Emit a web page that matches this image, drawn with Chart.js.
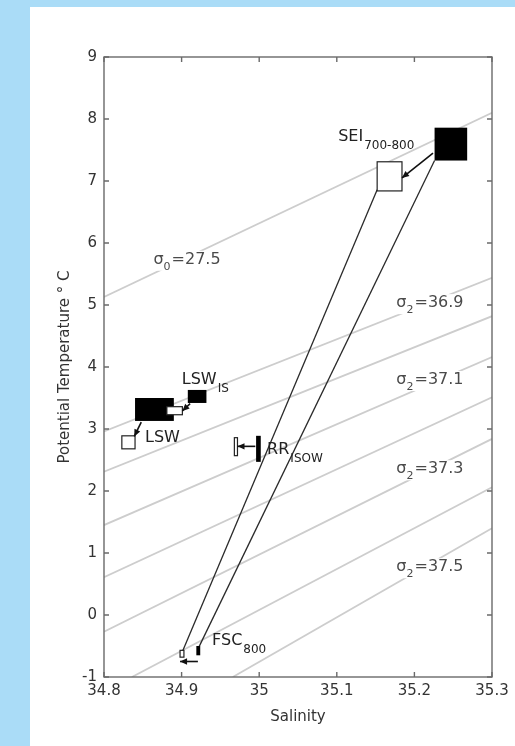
<!DOCTYPE html>
<html>
<head>
<meta charset="utf-8">
<script src="https://cdn.jsdelivr.net/npm/chart.js@4.4.1/dist/chart.umd.min.js"></script>
<style>
  body { margin: 0; background: #aadcf7; }
  #panel { position: absolute; left: 30px; top: 7px; width: 485px; height: 739px; background: #fff; }
</style>
</head>
<body>
<div id="panel"><canvas id="ts" width="485" height="739"></canvas></div>
<script>
// axes: salinity and potential temperature
const xTicks = [34.8, 34.9, 35, 35.1, 35.2, 35.3];
const yTicks = [-1, 0, 1, 2, 3, 4, 5, 6, 7, 8, 9];

// isopycnals, end points (salinity, temperature)
const isoNames = ["s0 27.5", "s2 36.9", "s2 37.0", "s2 37.1", "s2 37.2", "s2 37.3", "s2 37.4", "s2 37.5"];
const isoS0 = [34.8, 34.8, 34.8, 34.8, 34.8, 34.8, 34.836, 34.966];
const isoT0 = [5.13, 2.96, 2.31, 1.45, 0.61, -0.27, -1, -1];
const isoS1 = [35.3, 35.3, 35.3, 35.3, 35.3, 35.3, 35.3, 35.3];
const isoT1 = [8.10, 5.44, 4.82, 4.16, 3.51, 2.84, 2.06, 1.40];

// contour labels (sigma subscript, value, centre)
const isoLabSub = ["0", "2", "2", "2", "2"];
const isoLabVal = ["27.5", "36.9", "37.1", "37.3", "37.5"];
const isoLabS = [34.907, 35.22, 35.22, 35.22, 35.22];
const isoLabT = [5.73, 5.03, 3.79, 2.35, 0.77];

// mixing lines SEI -> FSC
const mixS0 = [35.152, 35.226];
const mixT0 = [6.86, 7.33];
const mixS1 = [34.900, 34.921];
const mixT1 = [-0.62, -0.55];

// water mass boxes (salinity / temperature ranges)
const boxNames = ["SEI", "SEI mixed", "LSW", "LSW mixed", "LSW IS", "LSW old", "RR mixed", "RR ISOW", "FSC mixed", "FSC"];
const boxSMin = [35.226, 35.152, 34.840, 34.881, 34.908, 34.823, 34.968, 34.996, 34.898, 34.919];
const boxSMax = [35.268, 35.184, 34.890, 34.901, 34.932, 34.840, 34.972, 35.002, 34.903, 34.924];
const boxTMin = [7.33, 6.84, 3.13, 3.23, 3.42, 2.68, 2.57, 2.47, -0.68, -0.65];
const boxTMax = [7.86, 7.31, 3.50, 3.36, 3.63, 2.89, 2.86, 2.89, -0.57, -0.50];
const boxFilled = [true, false, true, false, true, false, false, true, false, true];

// arrows from source to modified water
const arrS0 = [35.224, 34.911, 34.848, 34.995, 34.921];
const arrT0 = [7.45, 3.41, 3.11, 2.72, -0.75];
const arrS1 = [35.184, 34.901, 34.839, 34.972, 34.898];
const arrT1 = [7.05, 3.29, 2.88, 2.72, -0.75];

// water mass labels
const labText = ["SEI", "LSW", "LSW", "RR", "FSC"];
const labSub = ["700-800", "IS", "", "ISOW", "800"];
const labS = [35.1018, 34.9002, 34.8529, 35.0102, 34.9393];
const labT = [7.71, 3.79, 2.85, 2.66, -0.41];

const datasets = [];
for (let i = 0; i < mixS0.length; i++) {
  datasets.push({
    label: "mixing " + i,
    data: [{ x: mixS0[i], y: mixT0[i] }, { x: mixS1[i], y: mixT1[i] }],
    showLine: true, borderColor: "#2a2a2a", borderWidth: 1.3, pointRadius: 0, order: 0
  });
}
for (let i = 0; i < isoNames.length; i++) {
  datasets.push({
    label: isoNames[i],
    data: [{ x: isoS0[i], y: isoT0[i] }, { x: isoS1[i], y: isoT1[i] }],
    showLine: true, borderColor: "#cdcdcd", borderWidth: 1.8, pointRadius: 0, order: 1
  });
}

function arrow(ctx, x0, y0, x1, y1) {
  const a = Math.atan2(y1 - y0, x1 - x0), L = 7, W = 3.2;
  ctx.beginPath(); ctx.moveTo(x0, y0); ctx.lineTo(x1, y1); ctx.stroke();
  ctx.beginPath();
  ctx.moveTo(x1, y1);
  ctx.lineTo(x1 - L * Math.cos(a) + W * Math.sin(a), y1 - L * Math.sin(a) - W * Math.cos(a));
  ctx.lineTo(x1 - L * Math.cos(a) - W * Math.sin(a), y1 - L * Math.sin(a) + W * Math.cos(a));
  ctx.closePath(); ctx.fill();
}

const annotate = {
  id: "annotate",
  afterDatasetsDraw(chart) {
    const { ctx, chartArea: a } = chart;
    const x = chart.scales.x, y = chart.scales.y;
    ctx.save();

    // contour labels, with a white gap in the line
    ctx.textBaseline = "middle";
    for (let i = 0; i < isoLabVal.length; i++) {
      const cx = x.getPixelForValue(isoLabS[i]), cy = y.getPixelForValue(isoLabT[i]);
      ctx.font = "16px 'DejaVu Sans'";
      const w1 = ctx.measureText("σ").width;
      const w3 = ctx.measureText("=" + isoLabVal[i]).width;
      ctx.font = "11px 'DejaVu Sans'";
      const w2 = ctx.measureText(isoLabSub[i]).width + 1;
      const w = w1 + w2 + w3;
      ctx.fillStyle = "#fff";
      ctx.fillRect(cx - w / 2 - 3, cy - 9, w + 6, 20);
      ctx.fillStyle = "#4a4a4a";
      let px = cx - w / 2;
      ctx.textAlign = "left";
      ctx.font = "16px 'DejaVu Sans'";
      ctx.fillText("σ", px, cy);
      ctx.font = "11px 'DejaVu Sans'";
      ctx.fillText(isoLabSub[i], px + w1, cy + 7);
      ctx.font = "16px 'DejaVu Sans'";
      ctx.fillText("=" + isoLabVal[i], px + w1 + w2, cy);
    }

    // boxes
    ctx.lineWidth = 1.2;
    ctx.strokeStyle = "#222";
    for (let i = 0; i < boxNames.length; i++) {
      const l = x.getPixelForValue(boxSMin[i]), r = x.getPixelForValue(boxSMax[i]);
      const t = y.getPixelForValue(boxTMax[i]), b = y.getPixelForValue(boxTMin[i]);
      ctx.fillStyle = boxFilled[i] ? "#000" : "#fff";
      ctx.fillRect(l, t, r - l, b - t);
      if (!boxFilled[i]) ctx.strokeRect(l, t, r - l, b - t);
    }

    // arrows
    ctx.fillStyle = "#111";
    ctx.strokeStyle = "#111";
    ctx.lineWidth = 1.6;
    for (let i = 0; i < arrS0.length; i++) {
      arrow(ctx, x.getPixelForValue(arrS0[i]), y.getPixelForValue(arrT0[i]),
        x.getPixelForValue(arrS1[i]), y.getPixelForValue(arrT1[i]));
    }

    // water mass labels
    ctx.fillStyle = "#222";
    ctx.textAlign = "left";
    for (let i = 0; i < labText.length; i++) {
      const px = x.getPixelForValue(labS[i]), py = y.getPixelForValue(labT[i]);
      ctx.font = "16px 'DejaVu Sans'";
      ctx.fillText(labText[i], px, py);
      const w = ctx.measureText(labText[i]).width;
      ctx.font = "12px 'DejaVu Sans'";
      if (labSub[i]) ctx.fillText(labSub[i], px + w + 1, py + 9);
    }

    // matlab style box with inward ticks
    ctx.strokeStyle = "#6a6a6a";
    ctx.lineWidth = 1.4;
    ctx.strokeRect(a.left, a.top, a.right - a.left, a.bottom - a.top);
    ctx.beginPath();
    xTicks.forEach(v => {
      const px = x.getPixelForValue(v);
      ctx.moveTo(px, a.bottom); ctx.lineTo(px, a.bottom - 5);
      ctx.moveTo(px, a.top); ctx.lineTo(px, a.top + 5);
    });
    yTicks.forEach(v => {
      const py = y.getPixelForValue(v);
      ctx.moveTo(a.left, py); ctx.lineTo(a.left + 5, py);
      ctx.moveTo(a.right, py); ctx.lineTo(a.right - 5, py);
    });
    ctx.stroke();
    ctx.restore();
  }
};

const tickFont = { family: "'DejaVu Sans'", size: 15 };

new Chart(document.getElementById("ts"), {
  type: "scatter",
  data: { datasets: datasets },
  options: {
    responsive: false,
    animation: false,
    layout: { padding: { left: 0, top: 50, right: 23, bottom: 0 } },
    plugins: { legend: { display: false }, tooltip: { enabled: false } },
    scales: {
      x: {
        type: "linear", min: 34.8, max: 35.3,
        afterBuildTicks: s => { s.ticks = xTicks.map(v => ({ value: v })); },
        afterFit: s => { s.height = 69; },
        grid: { display: false, drawTicks: false },
        border: { display: false },
        ticks: { padding: 5, color: "#333", font: tickFont, autoSkip: false, maxRotation: 0,
          callback: v => String(+v.toFixed(1)) },
        title: { display: true, text: "Salinity", color: "#333", font: tickFont, padding: { top: 0, bottom: 20 } }
      },
      y: {
        type: "linear", min: -1, max: 9,
        afterBuildTicks: s => { s.ticks = yTicks.map(v => ({ value: v })); },
        afterFit: s => { s.width = 74; },
        grid: { display: false, drawTicks: false },
        border: { display: false },
        ticks: { padding: 7, color: "#333", font: tickFont, autoSkip: false },
        title: { display: true, text: "Potential Temperature ° C", color: "#333", font: tickFont, padding: { top: 26, bottom: 0 } }
      }
    }
  },
  plugins: [annotate]
});
</script>
</body>
</html>
